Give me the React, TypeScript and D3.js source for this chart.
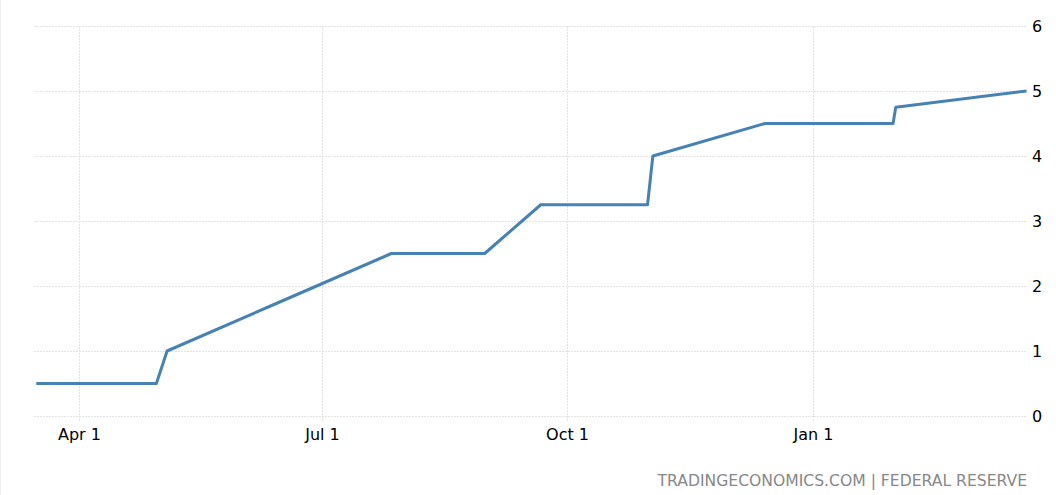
import React from "react";
import * as d3 from "d3";

const dates: string[] = [
  "2022-03-16", "2022-04-30", "2022-05-04", "2022-06-15", "2022-07-27",
  "2022-08-31", "2022-09-21", "2022-10-31", "2022-11-02", "2022-12-14",
  "2023-01-31", "2023-02-01", "2023-03-22",
];
const rates: number[] = [0.5, 0.5, 1.0, 1.75, 2.5, 2.5, 3.25, 3.25, 4.0, 4.5, 4.5, 4.75, 5.0];
const xTickDates: string[] = ["2022-04-01", "2022-07-01", "2022-10-01", "2023-01-01"];
const xTickLabels: string[] = ["Apr 1", "Jul 1", "Oct 1", "Jan 1"];
const yTicks: number[] = [0, 1, 2, 3, 4, 5, 6];
const sourceText = "TRADINGECONOMICS.COM | FEDERAL RESERVE";

const W = 1056;
const H = 495;

export default function App() {
  const parse = d3.timeParse("%Y-%m-%d");
  const data = dates.map((d, i) => ({ date: parse(d) as Date, v: rates[i] }));
  const x = d3
    .scaleTime()
    .domain([parse("2022-04-01") as Date, parse("2023-01-01") as Date])
    .range([79, 813]);
  const y = d3.scaleLinear().domain([0, 6]).range([416, 26]);
  const line = d3
    .line<{ date: Date; v: number }>()
    .x((d) => x(d.date))
    .y((d) => y(d.v));
  const gridLeft = 34;
  const gridRight = 1026;
  const font = "Tahoma, 'DejaVu Sans', Verdana, sans-serif";

  return (
    <div style={{ position: "absolute", left: 0, top: 0 }}>
      <svg width={W} height={H} style={{ display: "block", background: "#fff" }}>
        <line x1={0.5} x2={0.5} y1={0} y2={H} stroke="#eeeeee" />
        {yTicks.map((t) => (
          <g key={"y" + t}>
            <line
              x1={gridLeft}
              x2={gridRight}
              y1={Math.round(y(t)) + 0.5}
              y2={Math.round(y(t)) + 0.5}
              stroke="#e3e3e3"
              strokeDasharray="2,1"
            />
            <text
              x={1032}
              y={y(t)}
              dy="0.35em"
              fontFamily={font}
              fontSize={16}
              fill="#000"
            >
              {t}
            </text>
          </g>
        ))}
        {xTickDates.map((d, i) => {
          const xx = Math.round(x(parse(d) as Date)) + 0.5;
          return (
            <g key={"x" + d}>
              <line
                x1={xx}
                x2={xx}
                y1={26}
                y2={422}
                stroke="#e3e3e3"
                strokeDasharray="2,1"
              />
              <text
                x={xx}
                y={440}
                textAnchor="middle"
                fontFamily={font}
                fontSize={16}
                fill="#000"
              >
                {xTickLabels[i]}
              </text>
            </g>
          );
        })}
        <path
          d={line(data) || ""}
          fill="none"
          stroke="#4682b4"
          strokeWidth={3}
          strokeLinejoin="round"
        />
        <text
          x={1027}
          y={486}
          textAnchor="end"
          fontFamily={font}
          fontSize={15.6}
          fill="#888888"
        >
          {sourceText}
        </text>
      </svg>
    </div>
  );
}
